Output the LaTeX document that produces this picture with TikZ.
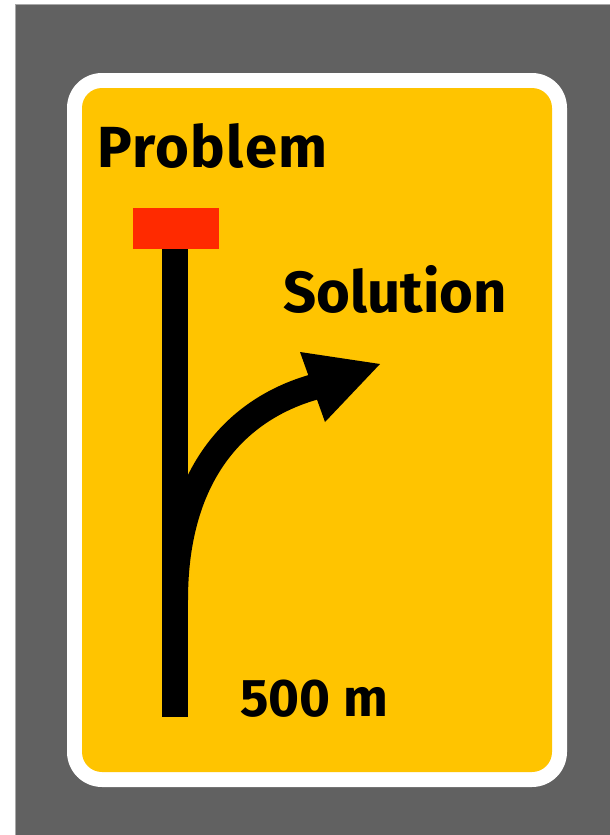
\documentclass[tikz,border=0pt]{standalone}
\usepackage{fontspec}
\setmainfont{Fira Sans}
\definecolor{signgray}{HTML}{616161}
\definecolor{signyellow}{HTML}{FFC400}
\definecolor{signred}{HTML}{FF2A00}
\definecolor{edgegray}{HTML}{A8A8A8}
\begin{document}
\begin{tikzpicture}[x=1pt,y=-1pt,
  signtext/.style={anchor=base west,inner sep=0pt,font=\bfseries\fontsize{58}{60}\selectfont},
  smalltext/.style={anchor=base west,inner sep=0pt,font=\bfseries\fontsize{53}{56}\selectfont}]
\useasboundingbox (0,0) rectangle (610,835);
\fill[white] (0,0) rectangle (610,835);
\fill[signgray] (16,5) rectangle (610,835);
\draw[edgegray,line width=1pt] (15.5,835) -- (15.5,4.5) -- (610,4.5);
\fill[white,rounded corners=35pt] (67,73) rectangle (567,787);
\fill[signyellow,rounded corners=20pt] (82,88) rectangle (552,772);
% bar and red block
\fill[signred] (133,208) rectangle (219,249);
\fill[black] (162,249) rectangle (188,717);
% curved arrow
\coordinate (start) at (175,600);
\coordinate (shaftend) at (314,387);
\draw[black,line width=26pt] (start) .. controls (175,470) and (240,408) .. (shaftend);
\fill[black] (300,352) -- (380,364) -- (325,422) -- cycle;
% texts
\node[signtext,font=\bfseries\fontsize{58}{60}\selectfont\addfontfeature{LetterSpace=2.5}] (problem) at (97,167) {Problem};
\node[signtext] (solution) at (283,312) {Solution};
\node[smalltext] (dist) at (240,716) {500 m};
\end{tikzpicture}
\end{document}
